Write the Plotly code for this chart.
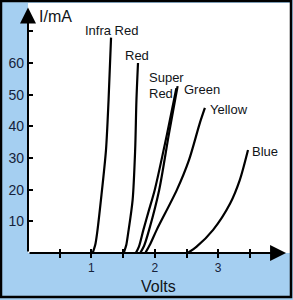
import plotly.graph_objects as go

# Data (Volts, mA)
infra_red_v = [1.02, 1.06, 1.09, 1.15, 1.23, 1.27, 1.31]
infra_red_i = [0, 2.5, 6.3, 16.7, 32.5, 48, 68]
red_v = [1.51, 1.55, 1.58, 1.65, 1.69, 1.71, 1.735]
red_i = [0, 2.5, 6.3, 16.7, 32.5, 48, 60]
super_red_v = [1.70, 1.75, 1.82, 1.90, 2.00, 2.19, 2.34]
super_red_i = [0, 2, 7.3, 13, 20, 37.3, 52]
green_v = [1.77, 1.83, 1.91, 2.07, 2.22, 2.36]
green_i = [0, 2.2, 7.3, 20, 37.3, 52.7]
yellow_v = [1.85, 1.92, 2.03, 2.35, 2.54, 2.71, 2.79]
yellow_i = [0, 2.5, 7.3, 20, 29.4, 41, 45.8]
blue_v = [2.52, 2.66, 2.92, 3.19, 3.34, 3.47]
blue_i = [0, 2, 7.3, 15.7, 23, 32.5]

x_tickvals = [0.5, 1, 1.5, 2, 2.5, 3, 3.5]
x_ticktext = ["", "1", "", "2", "", "3", ""]
y_tickvals = [10, 20, 30, 40, 50, 60, 70]
y_ticktext = ["10", "20", "30", "40", "50", "60", ""]

series = [
    ("Infra Red", infra_red_v, infra_red_i),
    ("Red", red_v, red_i),
    ("Super Red", super_red_v, super_red_i),
    ("Green", green_v, green_i),
    ("Yellow", yellow_v, yellow_i),
    ("Blue", blue_v, blue_i),
]

FONT = "Liberation Sans Narrow, Arial Narrow, Liberation Sans, Arial, sans-serif"
BLUE_BG = "#a5cff1"
INK = "#111418"
NAVY = "#16223a"

fig = go.Figure()
for name, vx, iy in series:
    fig.add_trace(go.Scatter(x=vx, y=iy, mode="lines", name=name,
                             line=dict(color="black", width=2.2, shape="spline", smoothing=0.8),
                             hoverinfo="skip"))

# dummy trace for the overlay axis carrying inner x ticks
fig.add_trace(go.Scatter(x=[None], y=[None], xaxis="x2", showlegend=False))

XMAX = 262 / 63.4
YMAX = 250 / 3.167

fig.update_layout(
    width=293, height=300,
    margin=dict(l=28, r=3, t=3, b=47),
    paper_bgcolor=BLUE_BG, plot_bgcolor="white",
    showlegend=False,
    font=dict(family=FONT, color=INK),
    xaxis=dict(range=[0, XMAX], showgrid=False, zeroline=False, showline=False,
               tickvals=x_tickvals, ticktext=x_ticktext, ticks="outside",
               ticklen=4, tickwidth=1.5, tickcolor="black",
               tickfont=dict(size=12, color=NAVY, family=FONT), ticklabelstandoff=0),
    xaxis2=dict(range=[0, XMAX], overlaying="x", matches="x", showgrid=False,
                zeroline=False, showline=False, tickvals=x_tickvals,
                showticklabels=False, ticks="inside", ticklen=4, tickwidth=1.5,
                tickcolor="black", side="bottom", anchor="y"),
    yaxis=dict(range=[0, YMAX], showgrid=False, zeroline=False, showline=False,
               tickvals=y_tickvals, ticktext=y_ticktext, ticks="inside",
               ticklen=5, tickwidth=1.5, tickcolor="black",
               tickfont=dict(size=14, color=NAVY, family=FONT), ticklabelstandoff=3),
)

# Axis arrows
fig.add_annotation(x=4.07, y=0, ax=0, ay=0, xref="x", yref="y", axref="x", ayref="y",
                   showarrow=True, arrowhead=2, arrowsize=1.6, arrowwidth=2,
                   arrowcolor="black", text="")
fig.add_annotation(x=0, y=77.5, ax=0, ay=0, xref="x", yref="y", axref="x", ayref="y",
                   showarrow=True, arrowhead=2, arrowsize=1.6, arrowwidth=2,
                   arrowcolor="black", text="")

# Axis titles
fig.add_annotation(x=(55 - 28) / 262, y=(253 - 16) / 250, xref="paper", yref="paper",
                   text="I/mA", showarrow=False, font=dict(size=16, color=INK),
                   xanchor="center", yanchor="middle")
fig.add_annotation(x=(158 - 28) / 262, y=(253 - 286) / 250, xref="paper", yref="paper",
                   text="Volts", showarrow=False, font=dict(size=16, color=INK),
                   xanchor="center", yanchor="middle")

# Curve labels
labels = [
    ("Infra Red", 1.31, 70.4, "center"),
    ("Red", 1.72, 62.5, "center"),
    ("Super", 1.877, 55.4, "left"),
    ("Red", 1.877, 50.5, "left"),
    ("Green", 2.43, 51.5, "left"),
    ("Yellow", 2.84, 45.2, "left"),
    ("Blue", 3.50, 31.9, "left"),
]
for t, lx, ly, anc in labels:
    fig.add_annotation(x=lx, y=ly, text=t, showarrow=False, xanchor=anc,
                       yanchor="middle", font=dict(size=13, color=INK))

# Frame around the whole picture
fig.add_shape(type="rect", xref="paper", yref="paper",
              x0=-27 / 262, x1=(262 + 1) / 262, y0=-44 / 250, y1=(250 + 2) / 250,
              line=dict(color="black", width=2.5), layer="above")

fig.write_html("out.html")
